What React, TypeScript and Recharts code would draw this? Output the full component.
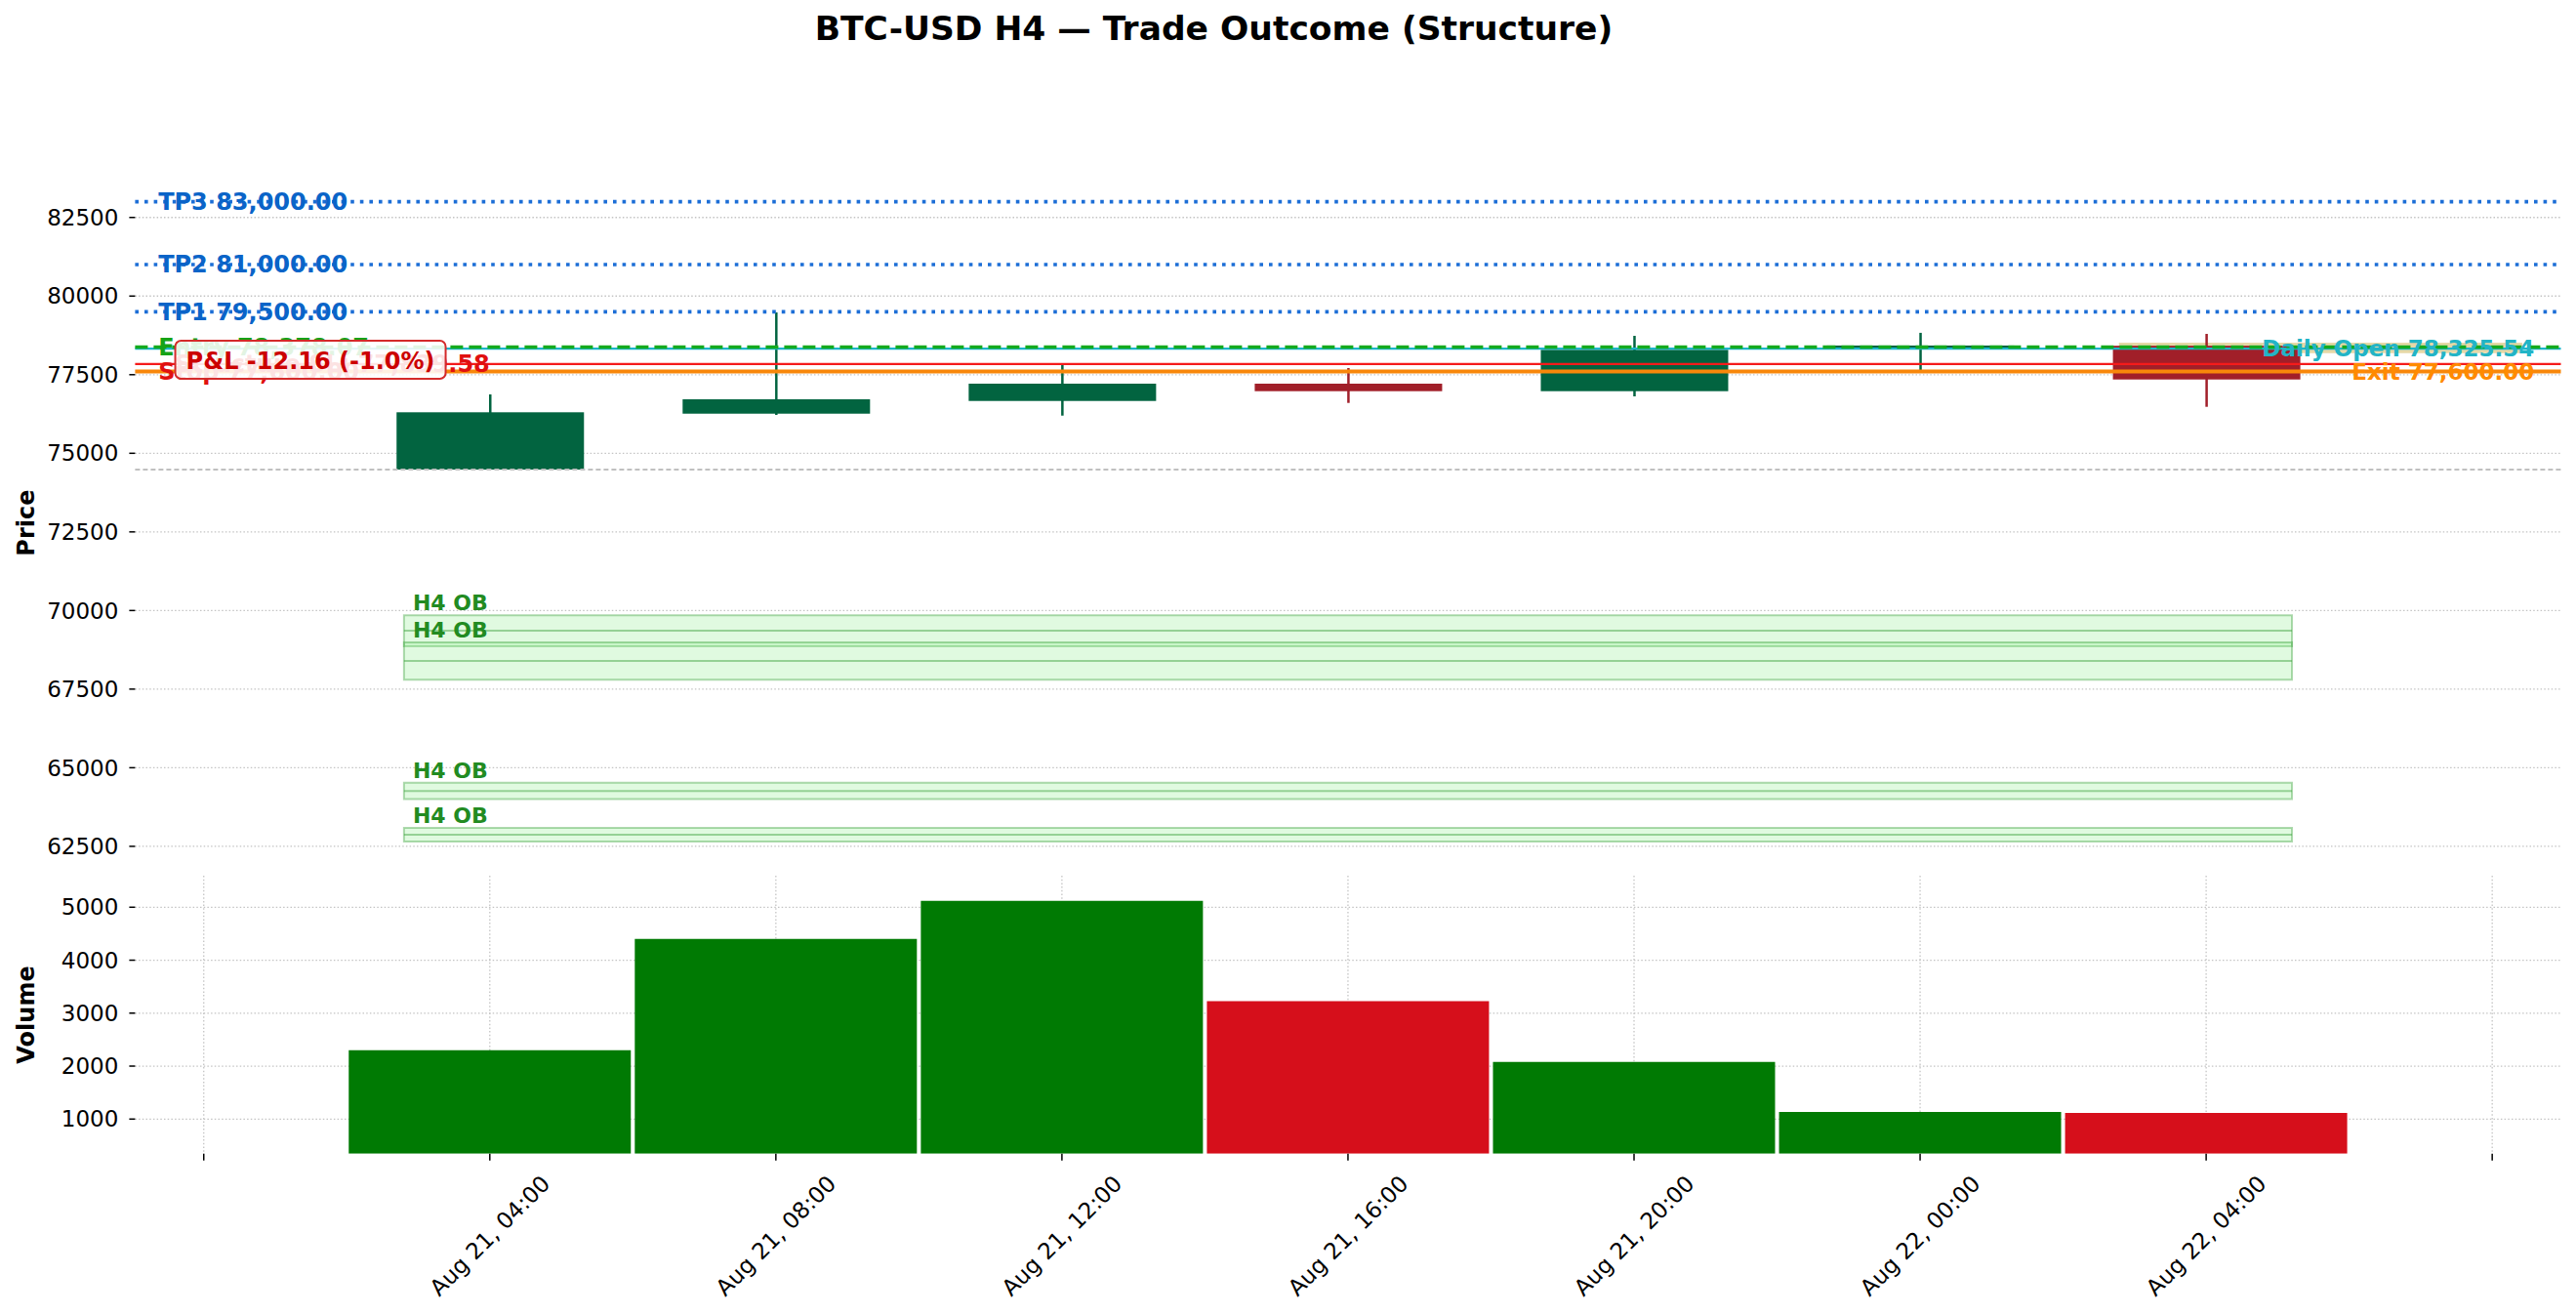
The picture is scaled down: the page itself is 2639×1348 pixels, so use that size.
import React from 'react';
import {
  ComposedChart,
  Bar,
  XAxis,
  YAxis,
  CartesianGrid,
  ReferenceLine,
  ReferenceArea,
  ReferenceDot,
  Cell,
} from 'recharts';

const FONT = '"DejaVu Sans", sans-serif';

// ---------------- data ----------------
const times = ['Aug 21, 04:00', 'Aug 21, 08:00', 'Aug 21, 12:00', 'Aug 21, 16:00', 'Aug 21, 20:00', 'Aug 22, 00:00', 'Aug 22, 04:00'];
const opens = [74482, 76260, 76664, 77214, 76975, 78322, 78420];
const highs = [76872, 79480, 77825, 77710, 78735, 78831, 78797];
const lows = [74482, 76220, 76198, 76602, 76810, 77648, 76478];
const closes = [76304, 76717, 77214, 76975, 78291, 78427, 77347];
const volumes = [2300, 4403, 5122, 3227, 2079, 1135, 1116];

const xTicks = [-1, 0, 1, 2, 3, 4, 5, 6, 7];
const priceTicks = [62500, 65000, 67500, 70000, 72500, 75000, 77500, 80000, 82500];
const volumeTicks = [1000, 2000, 3000, 4000, 5000];

const tpNames = ['TP1', 'TP2', 'TP3'];
const tpValues = [79500, 81000, 83000];
const entryPrice = 78378.07;
const dailyOpen = 78325.54;
const structureSL = 77839.58;
const exitPrice = 77600.0;
const stopPrice = 77600.0;
const rangeLow = 74482;

const obLows = [68860, 67800, 64000, 62650];
const obHighs = [69850, 68990, 64520, 63090];
const obLabel = 'H4 OB';

const exitZoneLow = 78185;
const exitZoneHigh = 78518;

const pnlText = 'P&L -12.16 (-1.0%)';
const titleText = 'BTC-USD H4 \u2014 Trade Outcome (Structure)';

// ---------------- layout constants ----------------
const X_DOMAIN: [number, number] = [-1.24, 7.24];
const PRICE_DOMAIN: [number, number] = [61690, 83880];
const VOL_DOMAIN: [number, number] = [347, 5595];
const ZONE_X: [number, number] = [-0.3, 6.3];
const LEFT_LABEL_X = -1.159;
const STRUCT_LABEL_END_X = 0.0;
const RIGHT_LABEL_X = 7.147;
const OB_LABEL_X = -0.269;
const PNL_X = -0.627;
const PNL_Y = 77974;
const EXIT_ZONE_X: [number, number] = [5.695, 7.105];

const UP = '#026440';
const DOWN = '#a11f29';
const VOL_UP = '#007a03';
const VOL_DOWN = '#d60f1b';
const TP_LINE = '#1c6ed6';
const TP_TEXT = '#0a64c8';
const ENTRY = '#14aa1e';
const CYAN = '#1cb5cc';
const RED = '#f51b1b';
const RED_TEXT = '#e01010';
const ORANGE = '#f8870a';
const OB_GREEN = '#228b22';

const fmt = (v: number) => v.toLocaleString('en-US', { minimumFractionDigits: 2, maximumFractionDigits: 2 });

const candles = times.map((t, i) => ({
  i,
  t,
  open: opens[i],
  high: highs[i],
  low: lows[i],
  close: closes[i],
  range: [lows[i], highs[i]],
}));

const volData = times.map((t, i) => ({ i, t, volume: volumes[i], up: closes[i] >= opens[i] }));

const W = 2639;
const PLOT_LEFT = 138.4;
const PLOT_RIGHT_MARGIN = W - 2623.5;

// ---------------- shapes ----------------
const Candle = (props: any) => {
  const { x, y, width, height, payload } = props;
  const { open, close, high, low } = payload;
  const span = high - low;
  const h = Math.abs(height);
  const top = Math.min(y, y + height);
  const ratio = span > 0 ? h / span : 0;
  const yOf = (v: number) => top + (high - v) * ratio;
  const up = close >= open;
  const color = up ? UP : DOWN;
  const bTop = yOf(Math.max(open, close));
  const bBot = yOf(Math.min(open, close));
  const cx = x + width / 2;
  return (
    <g>
      <line x1={cx} x2={cx} y1={yOf(high)} y2={yOf(low)} stroke={color} strokeWidth={2.5} />
      <rect x={x} y={bTop} width={width} height={Math.max(bBot - bTop, 2)} fill={color} />
    </g>
  );
};

const makeLabel = (text: string, color: string, anchor: 'start' | 'end', size: number) => (p: any) => (
  <text
    x={p.cx}
    y={p.cy + 0.35 * size}
    textAnchor={anchor}
    fontFamily={FONT}
    fontWeight="bold"
    fontSize={size}
    fill={color}
  >
    {text}
  </text>
);

const makeObLabel = (text: string) => (p: any) => (
  <text x={p.cx} y={p.cy - 5} textAnchor="start" fontFamily={FONT} fontWeight="bold" fontSize={22} fill={OB_GREEN}>
    {text}
  </text>
);

const PnlBox = (p: any) => {
  const w = 277;
  const h = 39;
  return (
    <g>
      <rect
        x={p.cx - w / 2}
        y={p.cy - h / 2}
        width={w}
        height={h}
        rx={6}
        ry={6}
        fill="#ffffff"
        fillOpacity={0.88}
        stroke="#d42a2a"
        strokeWidth={2}
      />
      <text x={p.cx} y={p.cy + 9} textAnchor="middle" fontFamily={FONT} fontWeight="bold" fontSize={24} fill="#cc0000">
        {pnlText}
      </text>
    </g>
  );
};

const XTick = (props: any) => {
  const { x, y, payload } = props;
  const idx = payload.value;
  const label = times[idx];
  if (label === undefined) return <g />;
  const cy = y + 77;
  return (
    <text
      x={x}
      y={cy}
      textAnchor="middle"
      dominantBaseline="central"
      fontFamily={FONT}
      fontSize={23}
      fill="#000"
      transform={`rotate(-45 ${x} ${cy})`}
    >
      {label}
    </text>
  );
};

const gridProps = {
  stroke: '#c4c4c4',
  strokeWidth: 1.3,
  strokeDasharray: '1.5 2.2',
  syncWithTicks: true,
};

const yTickStyle = { fontSize: 23, fontFamily: FONT, fill: '#000' };

export default function App() {
  return (
    <div style={{ position: 'absolute', left: 0, top: 0, width: W, height: 1348, background: '#fff', overflow: 'hidden' }}>
      {/* Price panel */}
      <div style={{ position: 'absolute', left: 0, top: 0 }}>
        <ComposedChart
          width={W}
          height={900}
          data={candles}
          margin={{ top: 178.3, right: PLOT_RIGHT_MARGIN, bottom: 7, left: 0 }}
        >
          <CartesianGrid {...gridProps} />
          <XAxis
            type="number"
            dataKey="i"
            domain={X_DOMAIN}
            ticks={xTicks}
            allowDataOverflow
            height={0}
            tick={false}
            tickLine={false}
            axisLine={false}
            interval={0}
          />
          <YAxis
            type="number"
            domain={PRICE_DOMAIN}
            ticks={priceTicks}
            allowDataOverflow
            width={PLOT_LEFT}
            axisLine={false}
            tickLine={{ stroke: '#000', strokeWidth: 1.5 }}
            tickSize={6}
            tickMargin={11}
            tick={yTickStyle}
            interval={0}
          />
          {obLows.map((lo, k) => (
            <ReferenceArea
              key={`ob${k}`}
              x1={ZONE_X[0]}
              x2={ZONE_X[1]}
              y1={lo}
              y2={obHighs[k]}
              fill="#90ee90"
              fillOpacity={0.28}
              stroke="#3a9f3a"
              strokeOpacity={0.4}
              strokeWidth={2}
            />
          ))}
          {obLows.map((lo, k) => (
            <ReferenceLine
              key={`obm${k}`}
              segment={[
                { x: ZONE_X[0], y: (lo + obHighs[k]) / 2 },
                { x: ZONE_X[1], y: (lo + obHighs[k]) / 2 },
              ]}
              stroke="#3a9f3a"
              strokeOpacity={0.45}
              strokeWidth={2}
            />
          ))}
          <Bar dataKey="range" barSize={192} shape={Candle} isAnimationActive={false} />
          <ReferenceArea
            x1={EXIT_ZONE_X[0]}
            x2={EXIT_ZONE_X[1]}
            y1={exitZoneLow}
            y2={exitZoneHigh}
            fill="#c8a83c"
            fillOpacity={0.45}
            stroke="none"
          />
          <ReferenceLine y={rangeLow} stroke="#c0c0c0" strokeWidth={2} strokeDasharray="5 3" />
          {tpValues.map((v, k) => (
            <ReferenceLine key={`tp${k}`} y={v} stroke={TP_LINE} strokeWidth={3.6} strokeDasharray="3.6 6" />
          ))}
          <ReferenceLine y={dailyOpen} stroke={CYAN} strokeWidth={2.2} />
          <ReferenceLine y={entryPrice} stroke={ENTRY} strokeWidth={3.6} strokeDasharray="13 6" />
          <ReferenceLine y={structureSL} stroke={RED} strokeWidth={2.4} />
          <ReferenceLine y={exitPrice} stroke={ORANGE} strokeWidth={4} />

          {tpValues.map((v, k) => (
            <ReferenceDot
              key={`tpl${k}`}
              x={LEFT_LABEL_X}
              y={v}
              r={0}
              shape={makeLabel(`${tpNames[k]} ${fmt(v)}`, TP_TEXT, 'start', 24)}
            />
          ))}
          <ReferenceDot x={LEFT_LABEL_X} y={entryPrice} r={0} shape={makeLabel(`Entry ${fmt(entryPrice)}`, '#16a316', 'start', 24)} />
          <ReferenceDot x={LEFT_LABEL_X} y={stopPrice} r={0} shape={makeLabel(`Stop ${fmt(stopPrice)}`, RED_TEXT, 'start', 24)} />
          <ReferenceDot x={STRUCT_LABEL_END_X} y={structureSL} r={0} shape={makeLabel(`Structure SL: ${fmt(structureSL)}`, RED_TEXT, 'end', 24)} />
          <ReferenceDot x={RIGHT_LABEL_X} y={dailyOpen} r={0} shape={makeLabel(`Daily Open ${fmt(dailyOpen)}`, '#22b4c6', 'end', 23)} />
          <ReferenceDot x={RIGHT_LABEL_X} y={exitPrice} r={0} shape={makeLabel(`Exit ${fmt(exitPrice)}`, '#ff8a00', 'end', 23)} />
          {obHighs.map((hi, k) => (
            <ReferenceDot key={`obl${k}`} x={OB_LABEL_X} y={hi} r={0} shape={makeObLabel(obLabel)} />
          ))}
          <ReferenceDot x={PNL_X} y={PNL_Y} r={0} shape={PnlBox} />
        </ComposedChart>
      </div>

      {/* Volume panel */}
      <div style={{ position: 'absolute', left: 0, top: 890 }}>
        <ComposedChart
          width={W}
          height={458}
          data={volData}
          margin={{ top: 7, right: PLOT_RIGHT_MARGIN, bottom: 0, left: 0 }}
        >
          <CartesianGrid {...gridProps} />
          <XAxis
            type="number"
            dataKey="i"
            domain={X_DOMAIN}
            ticks={xTicks}
            allowDataOverflow
            height={166.3}
            axisLine={false}
            tickLine={{ stroke: '#000', strokeWidth: 1.5 }}
            tickSize={7}
            tickMargin={0}
            tick={<XTick />}
            interval={0}
          />
          <YAxis
            type="number"
            domain={VOL_DOMAIN}
            ticks={volumeTicks}
            allowDataOverflow
            width={PLOT_LEFT}
            axisLine={false}
            tickLine={{ stroke: '#000', strokeWidth: 1.5 }}
            tickSize={6}
            tickMargin={11}
            tick={yTickStyle}
            interval={0}
          />
          <Bar dataKey="volume" barSize={289} isAnimationActive={false}>
            {volData.map((d, k) => (
              <Cell key={`v${k}`} fill={d.up ? VOL_UP : VOL_DOWN} />
            ))}
          </Bar>
        </ComposedChart>
      </div>

      {/* Titles */}
      <svg width={W} height={1348} style={{ position: 'absolute', left: 0, top: 0, pointerEvents: 'none' }}>
        <text x={1243.5} y={41} textAnchor="middle" fontFamily={FONT} fontWeight="bold" fontSize={34.5} fill="#000">
          {titleText}
        </text>
        <text
          x={27}
          y={535.6}
          textAnchor="middle"
          dominantBaseline="central"
          fontFamily={FONT}
          fontWeight="bold"
          fontSize={24}
          fill="#000"
          transform="rotate(-90 27 535.6)"
        >
          Price
        </text>
        <text
          x={27}
          y={1039.5}
          textAnchor="middle"
          dominantBaseline="central"
          fontFamily={FONT}
          fontWeight="bold"
          fontSize={24}
          fill="#000"
          transform="rotate(-90 27 1039.5)"
        >
          Volume
        </text>
      </svg>
    </div>
  );
}
